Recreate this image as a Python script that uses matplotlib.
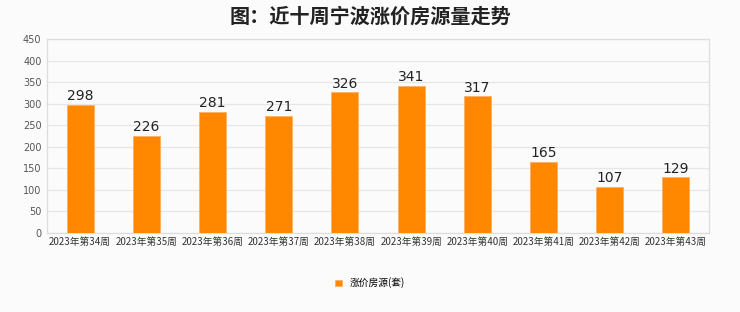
import matplotlib
matplotlib.use("Agg")
import matplotlib.pyplot as plt
import numpy as np

plt.rcParams['font.family'] = ['Noto Sans CJK SC', 'DejaVu Sans']

categories = ["2023年第34周", "2023年第35周", "2023年第36周", "2023年第37周", "2023年第38周",
              "2023年第39周", "2023年第40周", "2023年第41周", "2023年第42周", "2023年第43周"]
values = [298, 226, 281, 271, 326, 341, 317, 165, 107, 129]
yticks = [0, 50, 100, 150, 200, 250, 300, 350, 400, 450]
title = "图：近十周宁波涨价房源量走势"
series_name = "涨价房源(套)"

bg = "#fbfbfb"
fig = plt.figure(figsize=(7.4, 3.12), dpi=100, facecolor=bg)
ax = fig.add_axes([47/740, 1-233/312, (709-47)/740, (233-39)/312], facecolor=bg)

x = np.arange(len(categories))
bars = ax.bar(x, values, width=0.41, color="#ff8800", edgecolor="#ffb060", linewidth=0.6,
              label=series_name, zorder=3)
for xi, v in zip(x, values):
    ax.text(xi, v + 4, str(v), ha="center", va="bottom", fontsize=10, color="#222222",
            family=['DejaVu Sans'], zorder=4)

ax.set_xlim(-0.5, len(categories) - 0.5)
ax.set_ylim(0, 450)
ax.set_yticks(yticks)
ax.set_yticklabels([str(t) for t in yticks], fontsize=7, color="#555555", family=['DejaVu Sans'])
ax.set_xticks(x)
ax.set_xticklabels(categories, fontsize=7, color="#333333")
ax.tick_params(axis='both', length=0, pad=4)
ax.tick_params(axis='x', pad=3)
ax.grid(axis='y', color="#e6e6e6", linewidth=0.9, zorder=0)
for s in ax.spines.values():
    s.set_color("#dddddd")
    s.set_linewidth(0.9)

fig.text(0.5, 1-16/312, title, ha="center", va="center", fontsize=14.5, fontweight="bold", color="#222222")

leg = fig.legend(handles=[bars], labels=[series_name], loc="center", bbox_to_anchor=(370/740, 1-283/312),
                 frameon=False, fontsize=7, handlelength=0.7, handleheight=0.7, handletextpad=0.8)

fig.savefig("out.png", dpi=100, facecolor=bg)
